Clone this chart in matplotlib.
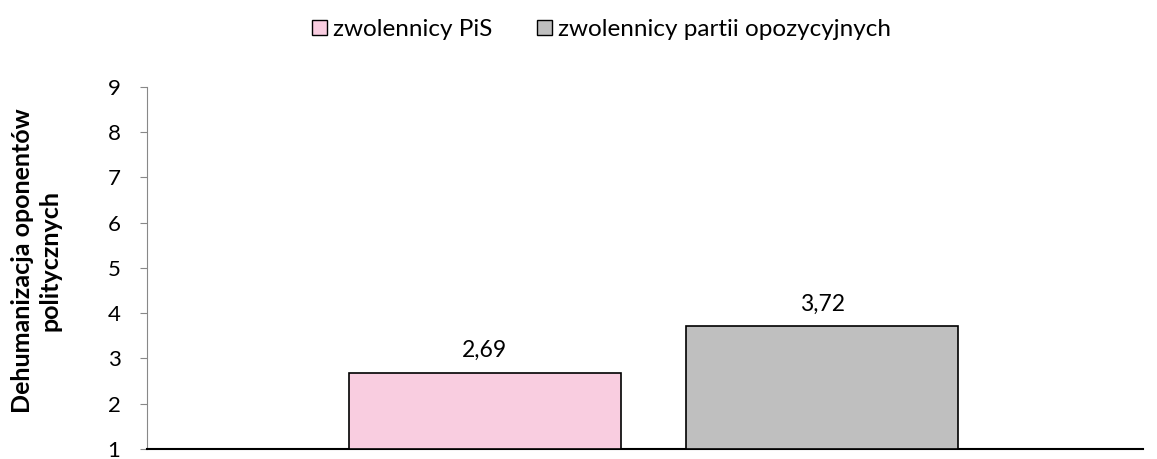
import matplotlib
matplotlib.use("Agg")
import matplotlib.pyplot as plt
from matplotlib.patches import Patch

plt.rcParams['font.family'] = ['Lato', 'DejaVu Sans']

groups = ["zwolennicy PiS", "zwolennicy partii opozycyjnych"]
values = [2.69, 3.72]
labels = ["2,69", "3,72"]
colors = ["#f9cde0", "#bfbfbf"]
yticks = [1, 2, 3, 4, 5, 6, 7, 8, 9]

fig = plt.figure(figsize=(11.57, 4.59), dpi=100)
ax = fig.add_axes([0.127, 0.0218, 0.861, 0.7887])

base = 1
xs = [0, 1]
ax.bar(xs, [v - base for v in values], bottom=base, width=0.805,
       color=colors, edgecolor="black", linewidth=1.2, zorder=3)
for x, v, t in zip(xs, values, labels):
    ax.text(x, v + 0.25, t, ha="center", va="bottom", fontsize=16.5)

ax.set_ylim(1, 9)
ax.set_xlim(-1.0, 1.95)
ax.set_yticks(yticks)
ax.set_yticklabels([str(t) for t in yticks], fontsize=16)
ax.set_xticks([])
for s in ["top", "right"]:
    ax.spines[s].set_visible(False)
ax.spines["left"].set_color("#888888")
ax.spines["bottom"].set_color("black")
ax.spines["bottom"].set_linewidth(1.5)
ax.tick_params(axis="y", direction="out", length=5, color="#888888", pad=14)

ax.set_ylabel("Dehumanizacja oponentów\npolitycznych", fontsize=18,
              fontweight="bold", multialignment="center")
ax.yaxis.set_label_coords(-0.086, 0.52)

handles = [Patch(facecolor=c, edgecolor="black", linewidth=1) for c in colors]
fig.legend(handles, groups, loc="center", bbox_to_anchor=(0.52, 0.935),
           ncol=2, frameon=False, fontsize=17.5, handlelength=0.6,
           handleheight=0.6, handletextpad=0.25, columnspacing=1.85)

fig.savefig("out.png", dpi=100)
